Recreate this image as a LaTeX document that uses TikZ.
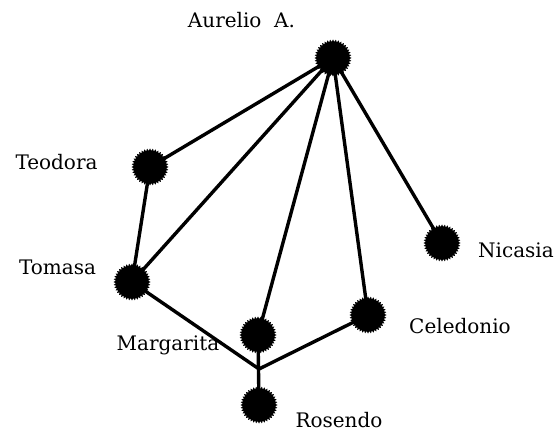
\documentclass[tikz,border=0pt]{standalone}
\usepackage{fontspec}
\setmainfont{DejaVu Serif}
\usetikzlibrary{shapes.geometric}
\begin{document}
\begin{tikzpicture}[x=1pt,y=-1pt,
  person/.style={star, star points=40, star point ratio=1.14, fill=black, draw=none,
    minimum size=37pt, inner sep=0pt},
  tie/.style={line width=3.4pt, line cap=round},
  lbl/.style={font=\fontsize{20}{22}\selectfont, inner sep=0pt, anchor=base}]
  \useasboundingbox (0,0) rectangle (555,433);
  % family members
  \coordinate (aur) at (333,58);
  \coordinate (teo) at (150,167);
  \coordinate (tom) at (132,282);
  \coordinate (mar) at (258,335);
  \coordinate (cel) at (368,315);
  \coordinate (nic) at (442,243);
  \coordinate (ros) at (259,405);
  \coordinate (jn) at (259,369);
  % ties
  \draw[tie] (aur) -- (teo);
  \draw[tie] (aur) -- (tom);
  \draw[tie] (aur) -- (mar);
  \draw[tie] (aur) -- (cel);
  \draw[tie] (aur) -- (nic);
  \draw[tie] (teo) -- (tom);
  \draw[tie] (tom) -- (jn);
  \draw[tie] (cel) -- (jn);
  \draw[tie] (mar) -- (ros);
  % nodes
  \node[person] (Naur) at (aur) {};
  \node[person] (Nteo) at (teo) {};
  \node[person] (Ntom) at (tom) {};
  \node[person] (Nmar) at (mar) {};
  \node[person] (Ncel) at (cel) {};
  \node[person] (Nnic) at (nic) {};
  \node[person] (Nros) at (ros) {};
  % names
  \node[lbl] (Laur) at (241.5,28) {Aurelio\ \ A.};
  \node[lbl] (Lteo) at (56.5,170) {Teodora};
  \node[lbl] (Ltom) at (57.5,275) {Tomasa};
  \node[lbl] (Lmar) at (168,350) {Margarita};
  \node[lbl] (Lcel) at (460,334) {Celedonio};
  \node[lbl] (Lnic) at (516,258) {Nicasia};
  \node[lbl] (Lros) at (339,427) {Rosendo};
\end{tikzpicture}
\end{document}
